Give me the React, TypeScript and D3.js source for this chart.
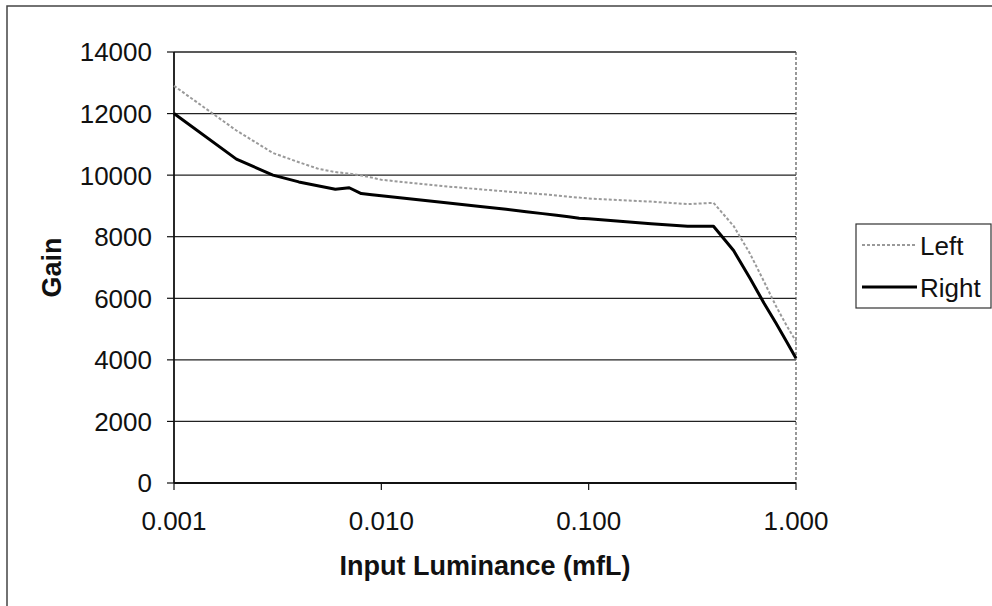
import * as d3 from "d3";

// luminance samples (mfL) and gain for each eye
const luminance = [
  0.001, 0.002, 0.003, 0.004, 0.005, 0.006, 0.007, 0.008, 0.009,
  0.01, 0.02, 0.03, 0.04, 0.05, 0.06, 0.07, 0.08, 0.09,
  0.1, 0.2, 0.3, 0.4, 0.5, 0.6, 0.7, 0.8, 0.9, 1.0,
];
const leftGain = [
  12900, 11450, 10720, 10420, 10200, 10100, 10050, 9990, 9920,
  9850, 9640, 9540, 9470, 9420, 9380, 9340, 9300, 9270,
  9240, 9140, 9060, 9100, 8350, 7450, 6550, 5750, 5120, 4600,
];
const rightGain = [
  12000, 10520, 10000, 9780, 9650, 9540, 9590, 9400, 9360,
  9330, 9110, 8980, 8890, 8810, 8750, 8700, 8650, 8600,
  8580, 8420, 8340, 8340, 7550, 6650, 5850, 5200, 4600, 4050,
];
const xTicks = [0.001, 0.01, 0.1, 1];
const yTicks = [0, 2000, 4000, 6000, 8000, 10000, 12000, 14000];
const seriesNames = ["Left", "Right"];

const W = 992;
const H = 606;
const plot = { left: 174, right: 796, top: 52, bottom: 483 };
const font = "'Liberation Sans', Arial, sans-serif";

export default function App() {
  const x = d3.scaleLog().domain([0.001, 1]).range([plot.left, plot.right]);
  const y = d3.scaleLinear().domain([0, 14000]).range([plot.bottom, plot.top]);

  const line = d3
    .line<number>()
    .x((_, i) => x(luminance[i]))
    .y((d) => y(d));

  return (
    <svg
      width={W}
      height={H}
      style={{ position: "absolute", left: 0, top: 0, background: "#fff" }}
      fontFamily={font}
    >
      {/* outer chart border, runs off the right and bottom */}
      <rect x={7} y={6} width={1000} height={700} fill="none" stroke="#444" strokeWidth={1.5} />

      {/* gridlines */}
      {yTicks.map((t) => (
        <line key={t} x1={plot.left} x2={plot.right} y1={y(t)} y2={y(t)} stroke="#222" strokeWidth={1.3} />
      ))}
      {/* right plot border dotted */}
      <line x1={plot.right} x2={plot.right} y1={plot.top} y2={plot.bottom} stroke="#555" strokeWidth={1.2} strokeDasharray="3 2" />

      {/* axes */}
      <line x1={plot.left} x2={plot.left} y1={plot.top} y2={plot.bottom} stroke="#111" strokeWidth={1.8} />
      <line x1={plot.left} x2={plot.right} y1={plot.bottom} y2={plot.bottom} stroke="#111" strokeWidth={1.8} />

      {yTicks.map((t) => (
        <g key={t}>
          <line x1={plot.left - 7} x2={plot.left} y1={y(t)} y2={y(t)} stroke="#111" strokeWidth={1.2} />
          <text x={152} y={y(t)} dy="0.36em" textAnchor="end" fontSize={26} fill="#111">
            {t}
          </text>
        </g>
      ))}
      {xTicks.map((t) => (
        <g key={t}>
          <line x1={x(t)} x2={x(t)} y1={plot.bottom} y2={plot.bottom + 7} stroke="#111" strokeWidth={1.2} />
          <text x={x(t)} y={530} textAnchor="middle" fontSize={26} fill="#111">
            {t.toFixed(3)}
          </text>
        </g>
      ))}

      {/* series */}
      <path d={line(leftGain) ?? ""} fill="none" stroke="#9a9a9a" strokeWidth={2} strokeDasharray="3 2" />
      <path d={line(rightGain) ?? ""} fill="none" stroke="#000" strokeWidth={3} strokeLinejoin="round" />

      {/* axis titles */}
      <text x={(plot.left + plot.right) / 2} y={575} textAnchor="middle" fontSize={27} fontWeight="bold" fill="#111">
        Input Luminance (mfL)
      </text>
      <text
        transform={`translate(61,${(plot.top + plot.bottom) / 2}) rotate(-90)`}
        textAnchor="middle"
        fontSize={27}
        fontWeight="bold"
        fill="#111"
      >
        Gain
      </text>

      {/* legend */}
      <rect x={856} y={224} width={135} height={84} fill="#fff" stroke="#333" strokeWidth={1.2} />
      {seriesNames.map((name, i) => (
        <g key={name}>
          <line
            x1={862}
            x2={917}
            y1={245 + i * 42}
            y2={245 + i * 42}
            stroke={i === 0 ? "#9a9a9a" : "#000"}
            strokeWidth={i === 0 ? 2 : 3}
            strokeDasharray={i === 0 ? "3 2" : undefined}
          />
          <text x={920} y={255 + i * 42} fontSize={26} fill="#111">
            {name}
          </text>
        </g>
      ))}
    </svg>
  );
}
